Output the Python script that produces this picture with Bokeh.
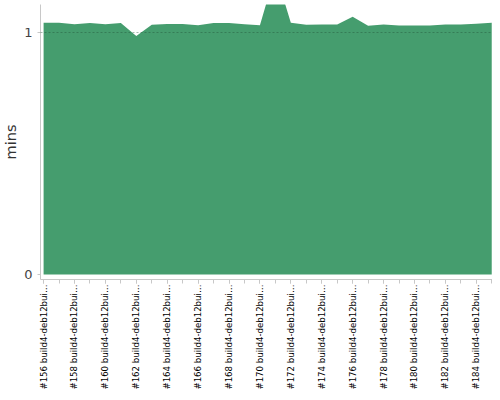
import math
from bokeh.plotting import figure
from bokeh.models import FixedTicker, Range1d
from bokeh.embed import file_html
from bokeh.resources import INLINE

builds = list(range(156, 186))
labels = ["#%d build4-deb12bui\u2026" % b for b in builds]
mins = [1.041, 1.041, 1.035, 1.040, 1.035, 1.040, 0.986, 1.032, 1.036, 1.036,
        1.030, 1.040, 1.040, 1.035, 1.030, 1.250, 1.041, 1.032, 1.033, 1.033,
        1.066, 1.028, 1.033, 1.029, 1.029, 1.029, 1.033, 1.033, 1.037, 1.041]
y_ticks = [0, 1]
grid_ticks = [1]

p = figure(width=492, height=392, output_backend="svg", toolbar_location=None,
           x_range=Range1d(155.8, 185.05), y_range=Range1d(-0.0207, 1.1162),
           min_border_top=4, min_border_left=0, min_border_right=0,
           min_border_bottom=0)
p.outline_line_color = None

p.varea(x=builds, y1=[0] * len(builds), y2=mins, fill_color="#459d6e")

p.xgrid.visible = False
p.ygrid.ticker = FixedTicker(ticks=grid_ticks)
p.ygrid.grid_line_color = "#1f4d33"
p.ygrid.grid_line_alpha = 0.4
p.ygrid.grid_line_dash = "2 2"
p.ygrid.level = "overlay"

xa = p.xaxis[0]
xa.axis_label = None
xa.axis_label_standoff = 0
xa.ticker = FixedTicker(ticks=builds[::2], minor_ticks=builds)
xa.major_label_overrides = {b: l for b, l in zip(builds, labels)}
xa.major_label_orientation = math.pi / 2
xa.major_label_text_font = "DejaVu Sans"
xa.major_label_text_font_size = "8.6px"
xa.major_label_text_color = "#000000"
xa.major_label_standoff = 1
xa.axis_line_color = "#c8c8c8"
xa.major_tick_line_color = "#c8c8c8"
xa.minor_tick_line_color = "#c8c8c8"
xa.major_tick_in = 0
xa.major_tick_out = 4
xa.minor_tick_in = 0
xa.minor_tick_out = 4

ya = p.yaxis[0]
ya.ticker = FixedTicker(ticks=y_ticks)
ya.axis_label = "mins"
ya.axis_label_text_font = "DejaVu Sans"
ya.axis_label_text_font_size = "14.5px"
ya.axis_label_text_font_style = "normal"
ya.axis_label_text_color = "#333333"
ya.axis_label_standoff = 2
ya.major_label_text_font = "DejaVu Sans"
ya.major_label_text_font_size = "13px"
ya.major_label_text_color = "#444444"
ya.major_label_standoff = 5
ya.axis_line_color = "#c8c8c8"
ya.major_tick_line_color = "#c8c8c8"
ya.major_tick_in = 0
ya.major_tick_out = 3
ya.minor_tick_line_color = None

open("out.html", "w").write(file_html(p, INLINE))
